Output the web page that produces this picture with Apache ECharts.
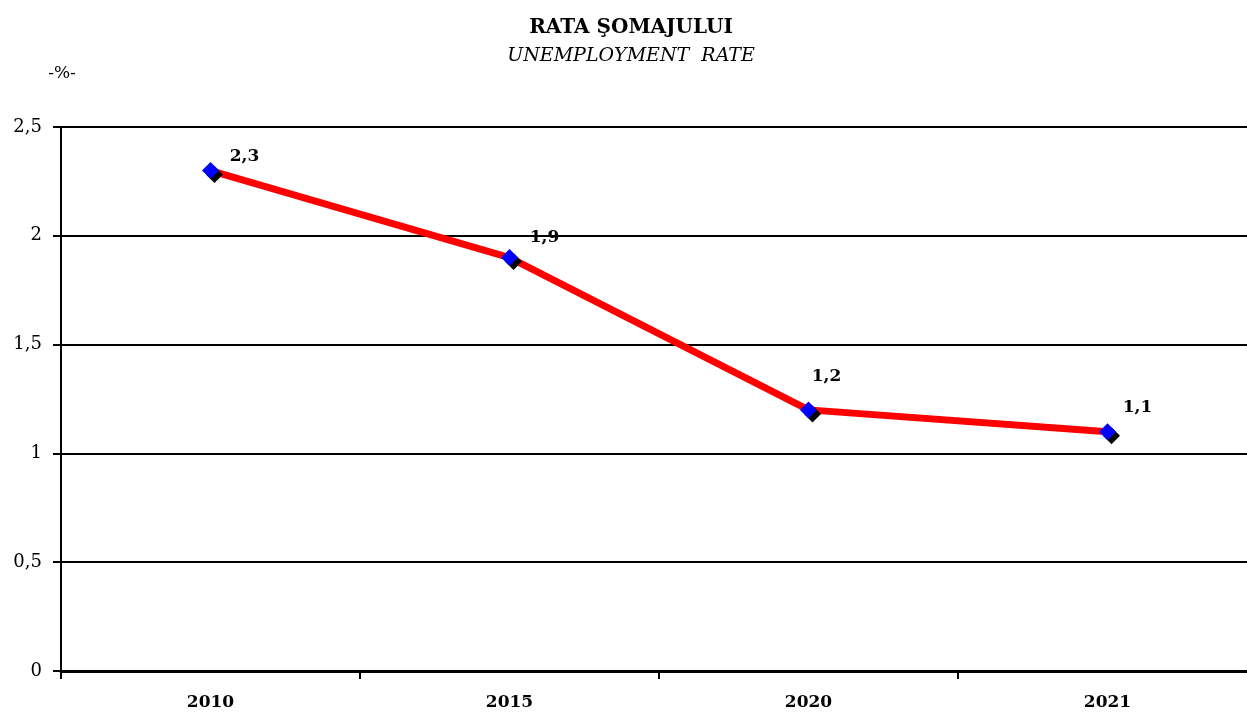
<!DOCTYPE html>
<html><head><meta charset="utf-8">
<script src="https://cdn.jsdelivr.net/npm/echarts@6/dist/echarts.min.js"></script>
<style>html,body{margin:0;padding:0;background:#fff}#c{width:1247px;height:716px}</style>
</head><body><div id="c"></div>
<script>
const categories = ['2010', '2015', '2020', '2021'];
const rates = [2.3, 1.9, 1.2, 1.1];
const yTicks = [0, 0.5, 1, 1.5, 2, 2.5];
const labelOffsets = [[34, 8], [35, 2], [18, -11], [30, -2]];

const chart = echarts.init(document.getElementById('c'), null, {renderer: 'canvas'});
const serif = '"DejaVu Serif", "Liberation Serif", serif';
const fmt = v => String(v).replace('.', ',');
chart.setOption({
  animation: false,
  graphic: [
    {type: 'text', x: 631, y: 28, style: {text: 'RATA ŞOMAJULUI', fontFamily: serif, fontWeight: 'bold', fontSize: 20,
      fill: '#000', textAlign: 'center', textVerticalAlign: 'middle'}},
    {type: 'text', x: 631, y: 56, style: {text: 'UNEMPLOYMENT  RATE', fontFamily: serif, fontStyle: 'italic', fontSize: 19,
      fill: '#000', textAlign: 'center', textVerticalAlign: 'middle'}},
    {type: 'text', x: 62, y: 74, style: {text: '-%-', fontFamily: serif, fontSize: 17,
      fill: '#000', textAlign: 'center', textVerticalAlign: 'middle'}}
  ],
  grid: {left: 61, width: 1196, top: 127, bottom: 45, containLabel: false, outerBoundsMode: 'none'},
  xAxis: {
    type: 'category', data: categories, boundaryGap: true,
    axisLine: {lineStyle: {color: '#000', width: 3}},
    axisTick: {show: true, length: 8, lineStyle: {color: '#000', width: 2}},
    axisLabel: {fontFamily: serif, fontWeight: 'bold', fontSize: 17, color: '#000', margin: 23}
  },
  yAxis: {
    type: 'value', min: 0, max: 2.5, interval: 0.5,
    axisLine: {show: true, lineStyle: {color: '#000', width: 2}},
    axisTick: {show: true, length: 8, lineStyle: {color: '#000', width: 2}},
    splitLine: {lineStyle: {color: '#000', width: 2}},
    axisLabel: {fontFamily: serif, fontSize: 18, color: '#000', margin: 19,
      formatter: v => yTicks.includes(v) ? fmt(v) : ''}
  },
  series: [{
    type: 'line',
    data: rates.map((v, i) => ({value: v, label: {offset: labelOffsets[i]}})),
    lineStyle: {color: '#ff0000', width: 7},
    symbol: 'diamond', symbolSize: 17,
    itemStyle: {color: '#0000ff', shadowColor: '#000', shadowOffsetX: 4, shadowOffsetY: 4, shadowBlur: 0},
    label: {show: true, position: 'top', fontFamily: serif, fontWeight: 'bold', fontSize: 17, color: '#000',
      formatter: p => fmt(p.value)},
    z: 3
  }]
});
</script></body></html>
